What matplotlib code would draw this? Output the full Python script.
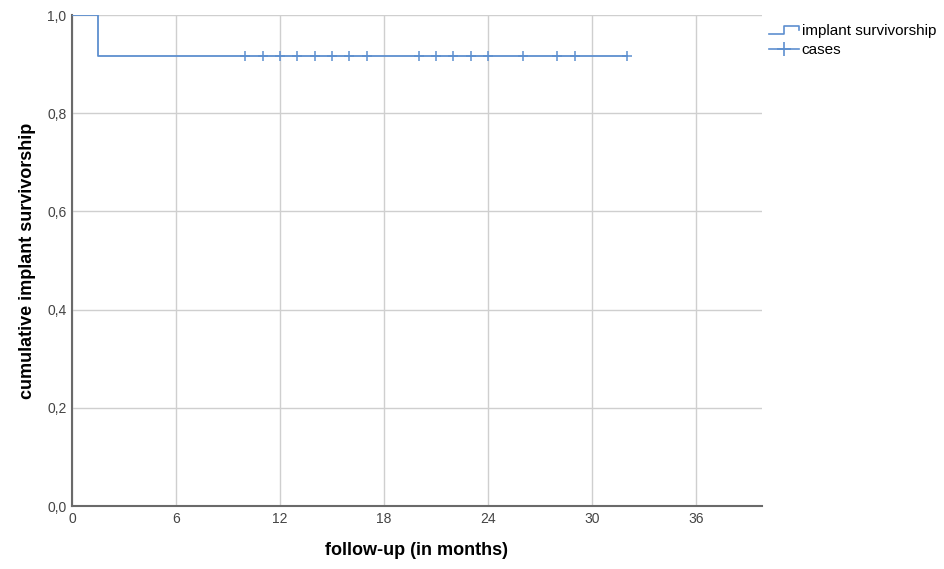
import matplotlib
matplotlib.use("Agg")
import matplotlib.pyplot as plt
from matplotlib.legend_handler import HandlerBase
from matplotlib.lines import Line2D
from matplotlib.ticker import FuncFormatter

# Kaplan-Meier curve
step_times = [0.0, 1.5, 32.0]
step_surv = [1.0, 0.917, 0.917]
censor_times = [10, 11, 12, 13, 14, 15, 16, 17, 20, 21, 22, 23, 24, 26, 28, 29, 32]
censor_surv = 0.917

x_ticks = [0, 6, 12, 18, 24, 30, 36]
y_ticks = [0.0, 0.2, 0.4, 0.6, 0.8, 1.0]

BLUE = "#5d8fcf"
GRID = "#cfcfcf"
plt.rcParams["font.family"] = ["Liberation Sans", "DejaVu Sans"]


class StepHandler(HandlerBase):
    """Little step glyph for the survival line in the legend."""

    def create_artists(self, legend, orig, xd, yd, w, h, fontsize, trans):
        xs = [xd, xd + 0.5 * w, xd + 0.5 * w, xd + w, xd + w]
        ys = [yd + 0.15 * h, yd + 0.15 * h, yd + 0.85 * h, yd + 0.85 * h, yd + 0.5 * h]
        ln = Line2D(xs, ys, color=BLUE, lw=1.2, transform=trans)
        return [ln]


fig = plt.figure(figsize=(9.44, 5.69), dpi=100)
ax = fig.add_axes([0.0763, 0.1107, 0.7307, 0.8629])

ax.step(step_times, step_surv, where="post", color=BLUE, lw=1.3, zorder=3)
ax.plot(censor_times, [censor_surv] * len(censor_times), ls="none", marker="+",
        ms=7, mew=1.1, color=BLUE, zorder=3)

ax.set_xlim(0, 39.8)
ax.set_ylim(0, 1.0)
ax.set_xticks(x_ticks)
ax.set_yticks(y_ticks)
ax.yaxis.set_major_formatter(FuncFormatter(lambda v, p: f"{v:.1f}".replace(".", ",")))
ax.tick_params(length=0, labelsize=10, colors="#444444", pad=4)
ax.grid(True, color=GRID, lw=1.0)
ax.set_axisbelow(True)
for s in ("top", "right"):
    ax.spines[s].set_visible(False)
for s in ("left", "bottom"):
    ax.spines[s].set_color("#6a6a6a")
    ax.spines[s].set_linewidth(1.5)

ax.set_xlabel("follow-up (in months)", fontsize=13, fontweight="bold", labelpad=12)
ax.set_ylabel("cumulative implant survivorship", fontsize=13, fontweight="bold", labelpad=8)

h_step = Line2D([], [], color=BLUE)
h_case = Line2D([], [], color=BLUE, marker="+", ms=10, mew=1.2, lw=1.2)
fig.legend([h_step, h_case], ["implant survivorship", "cases"],
           handler_map={h_step: StepHandler()},
           loc="upper left", bbox_to_anchor=(0.808, 0.968), frameon=False,
           fontsize=11, handlelength=2.0, handletextpad=0.15, labelspacing=0.3,
           borderaxespad=0)

fig.savefig("out.png", dpi=100)
